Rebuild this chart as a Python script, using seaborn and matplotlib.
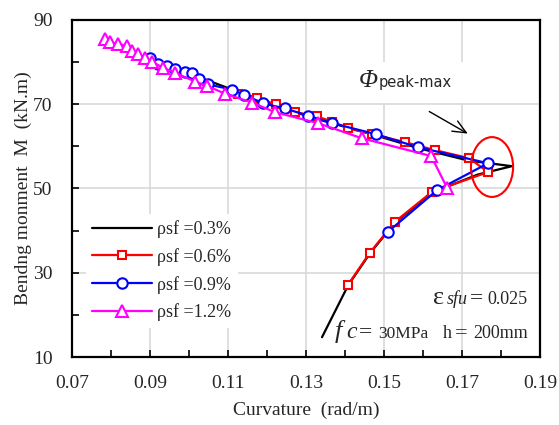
import matplotlib
matplotlib.use("Agg")
import matplotlib.pyplot as plt
import pandas as pd
import seaborn as sns
from matplotlib.patches import Ellipse, Rectangle

# curvature (rad/m) and bending moment (kN.m)
black_x = [0.0900, 0.1110, 0.1305, 0.1479, 0.1587, 0.1718, 0.1828,
           0.1740, 0.1623, 0.1528, 0.1464, 0.1408, 0.1341]
black_y = [80.8, 73.5, 67.1, 62.6, 59.6, 56.6, 55.3,
           53.3, 49.0, 41.9, 34.6, 27.0, 14.7]

red_x = [0.1126, 0.1174, 0.1223, 0.1272, 0.1328, 0.1367, 0.1408, 0.1469,
         0.1554, 0.1631, 0.1718, 0.1767, 0.1623, 0.1528, 0.1464, 0.1408]
red_y = [72.5, 71.4, 70.0, 68.1, 67.1, 65.9, 64.3, 62.9,
         61.0, 59.1, 57.2, 53.9, 49.2, 42.1, 34.8, 27.2]

blue_x = [0.0900, 0.0921, 0.0944, 0.0964, 0.0990, 0.1008, 0.1026, 0.1049,
          0.1110, 0.1141, 0.1190, 0.1246, 0.1305, 0.1367, 0.1479, 0.1587,
          0.1767, 0.1636, 0.1510]
blue_y = [81.0, 79.6, 79.1, 78.4, 77.7, 77.3, 76.1, 74.7,
          73.5, 72.3, 70.2, 69.0, 67.3, 65.5, 62.9, 59.8,
          56.0, 49.6, 39.7]

mag_x = [0.0785, 0.0797, 0.0818, 0.0841, 0.0854, 0.0869, 0.0887, 0.0905,
         0.0933, 0.0964, 0.1015, 0.1046, 0.1092, 0.1162, 0.1221, 0.1331,
         0.1444, 0.1621, 0.1662]
mag_y = [85.5, 84.8, 84.3, 83.9, 82.7, 82.0, 81.0, 80.1,
         78.7, 77.5, 75.4, 74.4, 72.5, 70.4, 68.1, 65.5,
         61.9, 57.7, 50.1]

labels = ["ρsf =0.3%", "ρsf =0.6%", "ρsf =0.9%", "ρsf =1.2%"]
colors = ["black", "#ff0000", "#0000ff", "#ff00ff"]
markers = [None, "s", "o", "^"]
msizes = [0, 5.5, 7.5, 8]

x_ticks = [0.07, 0.09, 0.11, 0.13, 0.15, 0.17, 0.19]
x_labels = ["0.07", "0.09", "0.11", "0.13", "0.15", "0.17", "0.19"]
y_ticks = [10, 30, 50, 70, 90]

sns.set_theme(style="white")
plt.rcParams["font.family"] = ["Liberation Serif", "DejaVu Serif"]

fig = plt.figure(figsize=(5.59, 4.25), dpi=100)
ax = fig.add_axes([72 / 559, 1 - 357 / 425, 468 / 559, 337 / 425])

series = [(black_x, black_y), (red_x, red_y), (blue_x, blue_y), (mag_x, mag_y)]
for i, (xs, ys) in enumerate(series):
    df = pd.DataFrame({"x": xs, "y": ys})
    kw = dict(marker=markers[i], markersize=msizes[i], markerfacecolor="white",
              markeredgecolor=colors[i], markeredgewidth=1.5) if markers[i] else {}
    sns.lineplot(data=df, x="x", y="y", sort=False, estimator=None, ax=ax,
                 color=colors[i], lw=1.6, label=labels[i], zorder=3 + i, **kw)

ax.set_xlim(0.07, 0.19)
ax.set_ylim(10, 90)
ax.set_xticks(x_ticks)
ax.set_xticklabels(x_labels)
ax.set_xticks([0.08, 0.10, 0.12, 0.14, 0.16, 0.18], minor=True)
ax.set_yticks(y_ticks)
ax.set_yticks([20, 40, 60, 80], minor=True)
ax.grid(True, which="major", color="#d9d9d9", lw=1.2)
ax.set_axisbelow(True)
ax.tick_params(which="both", direction="in", length=5, width=1.2, color="black",
               labelsize=14, bottom=True, left=True)
ax.tick_params(axis="x", pad=13)
ax.tick_params(axis="y", pad=14)
for s in ax.spines.values():
    s.set_color("black")
    s.set_linewidth(1.6)

ax.set_xlabel("Curvature  (rad/m)", fontsize=14, labelpad=7)
ax.set_ylabel("Bendng monment  M  (kN.m)", fontsize=14, labelpad=1)

# white box behind the Φ label
ax.add_patch(Rectangle((0.566, 0.755), 0.275, 0.12, transform=ax.transAxes,
                       facecolor="white", edgecolor="none", zorder=1))
ax.text(0.613, 0.801, "Φ", transform=ax.transAxes, fontsize=18, style="italic",
        va="baseline", zorder=10)
ax.text(0.656, 0.801, "peak-max", transform=ax.transAxes, fontsize=10.5,
        family="DejaVu Sans", va="baseline", zorder=10)
ax.annotate("", xy=(0.1721, 62.7), xytext=(0.1610, 68.6),
            arrowprops=dict(arrowstyle="->,head_length=0.8,head_width=0.35",
                            color="black", lw=1.0), zorder=10)
ax.add_patch(Ellipse((0.1777, 55.1), width=0.0108, height=14.2, fill=False,
                     edgecolor="#ff0000", lw=1.5, zorder=9))

# annotation texts
ty = 0.157
ax.text(0.771, ty, "ε", transform=ax.transAxes, fontsize=19, va="baseline")
ax.text(0.801, ty, "sfu", transform=ax.transAxes, fontsize=13, style="italic", va="baseline")
ax.text(0.850, ty, "=", transform=ax.transAxes, fontsize=17, va="baseline")
ax.text(0.887, ty, "0.025", transform=ax.transAxes, fontsize=13, va="baseline")

ty = 0.056
ax.text(0.562, ty, "f", transform=ax.transAxes, fontsize=19, style="italic", va="baseline")
ax.text(0.585, ty, "c", transform=ax.transAxes, fontsize=17, style="italic", va="baseline")
ax.text(0.612, ty, "=", transform=ax.transAxes, fontsize=17, va="baseline")
ax.text(0.654, ty, "30MPa", transform=ax.transAxes, fontsize=12.5, va="baseline")
ax.text(0.793, ty, "h", transform=ax.transAxes, fontsize=13, va="baseline")
ax.text(0.818, ty, "=", transform=ax.transAxes, fontsize=16, va="baseline")
ax.text(0.857, ty, "200mm", transform=ax.transAxes, fontsize=13, va="baseline")

leg = ax.legend(loc="upper left", bbox_to_anchor=(0.03, 0.425), borderaxespad=0,
                fontsize=13, frameon=True, fancybox=False, handlelength=3.3,
                handletextpad=0.3, labelspacing=0.55, borderpad=0.35, numpoints=1)
leg.get_frame().set_facecolor("white")
leg.get_frame().set_edgecolor("none")
leg.get_frame().set_alpha(1)
leg.set_zorder(2)

fig.savefig("out.png", dpi=100)
